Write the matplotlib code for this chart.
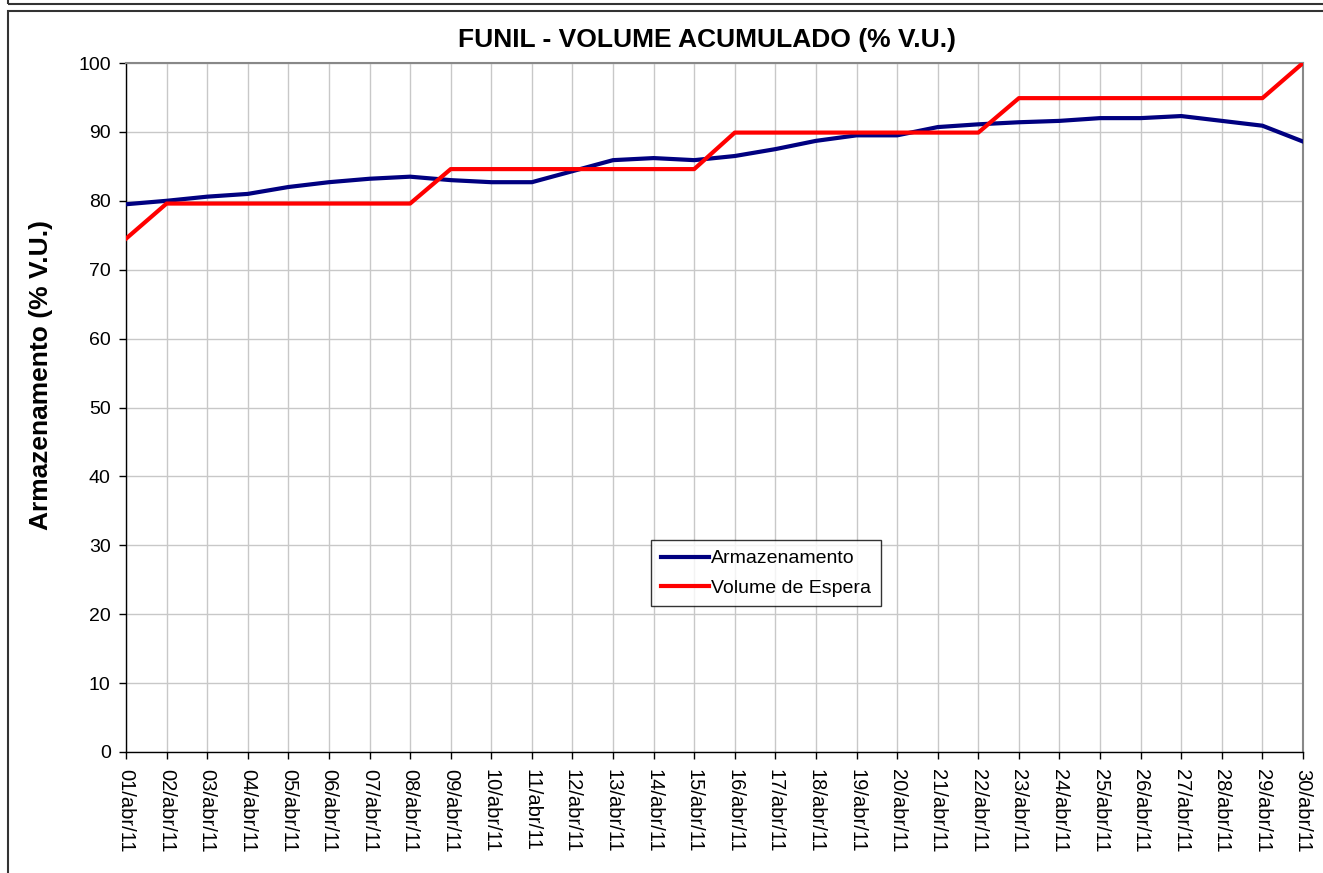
import matplotlib
matplotlib.use("Agg")
import matplotlib.pyplot as plt
from matplotlib.patches import Rectangle

days = [f"{d:02d}/abr/11" for d in range(1, 31)]
armazenamento = [79.5, 80.0, 80.6, 81.0, 82.0, 82.7, 83.2, 83.5, 83.0, 82.7,
                 82.7, 84.3, 85.9, 86.2, 85.9, 86.5, 87.5, 88.7, 89.5, 89.5,
                 90.7, 91.1, 91.4, 91.6, 92.0, 92.0, 92.3, 91.6, 90.9, 88.6]
volume_espera = [74.5, 79.6, 79.6, 79.6, 79.6, 79.6, 79.6, 79.6, 84.6, 84.6,
                 84.6, 84.6, 84.6, 84.6, 84.6, 89.9, 89.9, 89.9, 89.9, 89.9,
                 89.9, 89.9, 94.9, 94.9, 94.9, 94.9, 94.9, 94.9, 94.9, 100.0]
y_ticks = list(range(0, 101, 10))

plt.rcParams['font.family'] = ['Liberation Sans', 'DejaVu Sans']

W, H = 1323, 873
fig = plt.figure(figsize=(W / 100, H / 100), dpi=100)
ax = fig.add_axes([126 / W, 1 - 752 / H, (1303 - 126) / W, (752 - 63) / H])

x = list(range(len(days)))
ax.plot(x, armazenamento, color='#000080', lw=3, label='Armazenamento', zorder=3)
ax.plot(x, volume_espera, color='#FF0000', lw=3, label='Volume de Espera', zorder=4)

ax.set_xlim(0, len(days) - 1)
ax.set_ylim(0, 100)
ax.set_yticks(y_ticks)
ax.set_xticks(x)
ax.set_xticklabels(days, rotation=270, fontsize=14.5)
ax.tick_params(axis='y', labelsize=14, direction='out', length=5, width=1, pad=6)
ax.tick_params(axis='x', direction='out', length=5, width=1, pad=7)
ax.grid(True, color='#c8c8c8', lw=1)
ax.set_axisbelow(True)

for s in ['top', 'right']:
    ax.spines[s].set_color('#888888')
    ax.spines[s].set_linewidth(1.5)
for s in ['left', 'bottom']:
    ax.spines[s].set_color('black')
    ax.spines[s].set_linewidth(1)

ax.text(0.5 - 7 / (1303 - 126), 1 + 23 / (752 - 63), 'FUNIL - VOLUME ACUMULADO (% V.U.)',
        transform=ax.transAxes, ha='center', va='center', fontsize=19, fontweight='bold')
ax.set_ylabel('Armazenamento (% V.U.)', fontsize=19, fontweight='bold')
ax.yaxis.set_label_coords(-0.062, (752 - 375) / (752 - 63))

leg = ax.legend(loc='upper left', bbox_to_anchor=((651 - 126) / (1303 - 126), (752 - 540) / (752 - 63)),
                fontsize=14, frameon=True, fancybox=False, handlelength=2.5,
                handletextpad=0.1, borderpad=0.5, labelspacing=0.6, borderaxespad=0,
                handleheight=0.7)
leg.get_frame().set_edgecolor('black')
leg.get_frame().set_linewidth(1)

# outer frames (cut off at the right edge)
fig.patches.append(Rectangle((8 / W, 1 - 4 / H), 1.0, 10 / H, transform=fig.transFigure,
                             fill=False, edgecolor='#333333', lw=1.5))
fig.patches.append(Rectangle((8 / W, -0.02), 1.0, 1 - 11 / H + 0.02, transform=fig.transFigure,
                             fill=False, edgecolor='#333333', lw=1.5))

fig.savefig('out.png', dpi=100)
